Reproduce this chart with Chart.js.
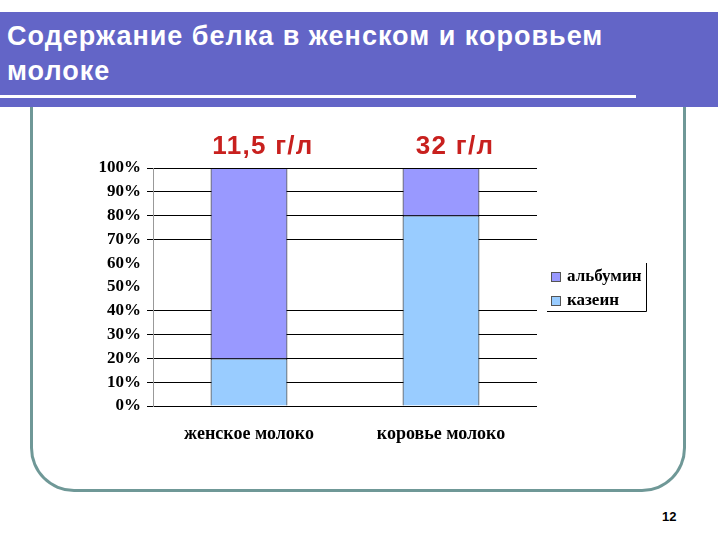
<!DOCTYPE html>
<html lang="ru">
<head>
<meta charset="UTF-8">
<script src="https://cdn.jsdelivr.net/npm/chart.js@4.4.1/dist/chart.umd.min.js"></script>
<title>Содержание белка в женском и коровьем молоке</title>
<style>
    body { margin: 0; width: 720px; height: 540px; background: #fff; position: relative; overflow: hidden; font-family: "Liberation Sans", Arial, sans-serif; }
    #frame { position: absolute; left: 30px; top: 60px; width: 650px; height: 429px; border: 3px solid #6f9897; border-top: none; border-radius: 0 0 44px 44px; }
    #band { position: absolute; left: 0; top: 12px; width: 718px; height: 95px; background: #6365c7; }
    #title { position: absolute; left: 7px; top: 19px; color: #fff; font-weight: bold; font-size: 27px; line-height: 35px; letter-spacing: 1px; }
    #rule { position: absolute; left: 0; top: 95px; width: 636px; height: 3px; background: #fff; }
    #page { position: absolute; left: 662px; top: 509px; font-size: 13px; font-weight: bold; color: #000; }
    #chart { position: absolute; left: 0; top: 0; }
</style>
</head>
<body>
    <div id="frame"></div>
    <div id="band"></div>
    <div id="rule"></div>
    <div id="title">Содержание белка в женском и коровьем<br>молоке</div>
    <div id="page">12</div>
    <canvas id="chart" width="720" height="540"></canvas>

<script>
    // данные с рисунка
    const categories = ['женское молоко', 'коровье молоко'];
    const casein = [20, 80];
    const albumin = [80, 20];
    const totals = ['11,5 г/л', '32 г/л'];
    const seriesNames = ['казеин', 'альбумин'];
    const seriesColors = ['#99ccff', '#9999ff'];
    const missingGrid = [50, 60];

    const serif = 'Liberation Serif, Times New Roman, serif';

    // подписи над столбцами и легенда справа
    const extras = {
        id: 'extras',
        afterDraw(chart) {
            const ctx = chart.ctx;
            const area = chart.chartArea;
            const topMeta = chart.getDatasetMeta(chart.data.datasets.length - 1);

            ctx.save();
            ctx.fillStyle = '#c8201e';
            ctx.font = 'bold 26px Liberation Sans, Arial, sans-serif';
            ctx.letterSpacing = '1.3px';
            ctx.textAlign = 'center';
            ctx.textBaseline = 'middle';
            totals.forEach((t, i) => {
                ctx.fillText(t, topMeta.data[i].x + 14, area.top - 21);
            });
            ctx.letterSpacing = '0px';

            // легенда
            const bx = area.right + 10, by = area.top + 95, bw = 99, bh = 48;
            ctx.strokeStyle = '#000';
            ctx.lineWidth = 1;
            ctx.beginPath();
            ctx.moveTo(bx + bw + 0.5, by);
            ctx.lineTo(bx + bw + 0.5, by + bh + 0.5);
            ctx.lineTo(bx, by + bh + 0.5);
            ctx.stroke();

            ctx.font = 'bold 17px ' + serif;
            ctx.textAlign = 'left';
            const ds = chart.data.datasets.slice().reverse();
            ds.forEach((d, i) => {
                const cy = by + 14 + i * 24;
                ctx.fillStyle = d.backgroundColor;
                ctx.fillRect(bx + 4, cy - 5, 10, 10);
                ctx.strokeStyle = '#555';
                ctx.strokeRect(bx + 4.5, cy - 4.5, 9, 9);
                ctx.fillStyle = '#000';
                ctx.fillText(d.label, bx + 20, cy);
            });
            ctx.restore();
        }
    };

    new Chart(document.getElementById('chart'), {
        type: 'bar',
        data: {
            labels: categories,
            datasets: [
                {
                    label: seriesNames[0],
                    data: casein,
                    backgroundColor: seriesColors[0],
                    borderColor: '#000',
                    borderWidth: 1
                },
                {
                    label: seriesNames[1],
                    data: albumin,
                    backgroundColor: seriesColors[1],
                    borderColor: '#000',
                    borderWidth: 1
                }
            ]
        },
        options: {
            responsive: false,
            animation: false,
            barPercentage: 0.4,
            categoryPercentage: 1,
            layout: { padding: { left: 90, right: 183, top: 168, bottom: 94 } },
            plugins: {
                legend: { display: false },
                tooltip: { enabled: false }
            },
            scales: {
                x: {
                    stacked: true,
                    grid: { display: false, drawTicks: false },
                    border: { display: false },
                    ticks: {
                        color: '#000',
                        padding: 18,
                        font: { family: serif, weight: 'bold', size: 18 }
                    },
                    afterFit: s => { s.height = 40; }
                },
                y: {
                    stacked: true,
                    min: 0,
                    max: 100,
                    ticks: {
                        stepSize: 10,
                        color: '#000',
                        padding: 6,
                        font: { family: serif, weight: 'bold', size: 17 },
                        callback: v => v + '%'
                    },
                    grid: {
                        color: c => missingGrid.includes(c.tick.value) ? 'rgba(0,0,0,0)' : '#000',
                        tickLength: 6
                    },
                    border: { display: true, color: '#999' },
                    afterFit: s => { s.width = 63; }
                }
            }
        },
        plugins: [extras]
    });
</script>
</body>
</html>
